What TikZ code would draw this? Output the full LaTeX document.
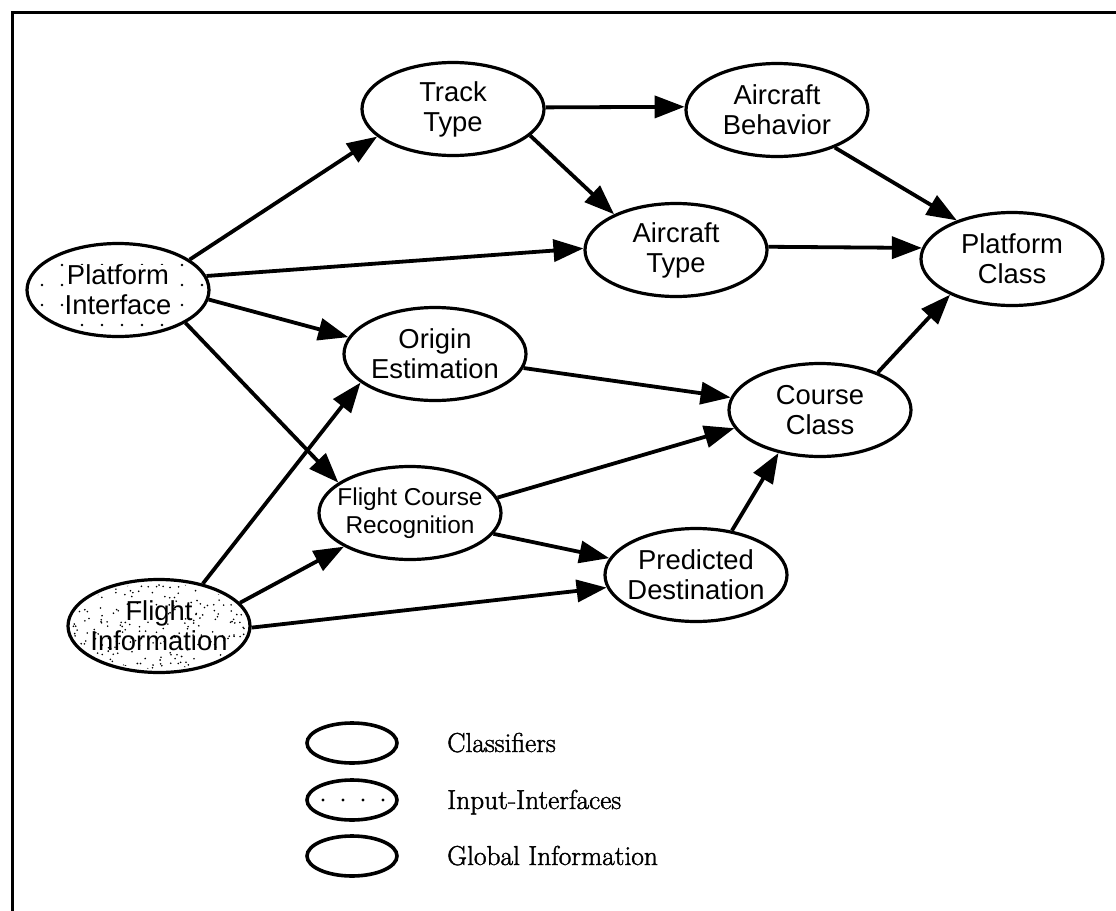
\documentclass[tikz,border=0pt]{standalone}
\usepackage{fontspec}
\newfontfamily\hv{Liberation Sans}
\newfontfamily\legfont{Latin Modern Roman}[FakeBold=1.5]
\usetikzlibrary{shapes.geometric,arrows.meta}
\begin{document}
\begin{tikzpicture}[x=1bp,y=-1bp,
  ell/.style={ellipse,draw,line width=3.2bp,minimum width=182bp,minimum height=93bp,inner sep=0pt},
  lbl/.style={font=\hv\fontsize{27.5}{30}\selectfont,align=center,inner sep=0pt},
  lblsm/.style={font=\hv\fontsize{24.5}{28}\selectfont,align=center,inner sep=0pt},
  arr/.style={line width=3.8bp,-{Triangle[length=30bp,width=22bp]}},
  legell/.style={ellipse,draw,line width=3.6bp,minimum width=90bp,minimum height=40bp,inner sep=0pt},
  legtxt/.style={font=\legfont\fontsize{27.5}{30}\selectfont,anchor=base west,inner sep=0pt}]
\useasboundingbox (0,0) rectangle (1116,911);
% frame
\draw[line width=3bp] (12,911) -- (12,12) -- (1116,12);

% dotted fill of Platform Interface
\begin{scope}
\clip (118,290) ellipse [x radius=86, y radius=43];
\foreach \x in {42,62,...,202} \foreach \y in {265,285,305,325} \fill (\x,\y) circle (1.4bp);
\end{scope}
% speckled fill of Flight Information
\begin{scope}
\clip (159,626) ellipse [x radius=88, y radius=43];
\pgfmathsetseed{12}
\foreach \i in {1,...,230}{
  \pgfmathsetmacro\px{159+88*rand}
  \pgfmathsetmacro\py{626+43*rand}
  \fill (\px,\py) circle (0.9bp);
}
\end{scope}

% nodes
\node[ell] (TT) at (453,109) {};
\node[lbl] (TTt) at (TT) {Track\\Type};
\node[ell] (AB) at (777,110) {};
\node[lbl] (ABt) at (AB) {Aircraft\\Behavior};
\node[ell] (AT) at (676,250) {};
\node[lbl] (ATt) at (AT) {Aircraft\\Type};
\node[ell] (PC) at (1012,259) {};
\node[lbl] (PCt) at (PC) {Platform\\Class};
\node[ell] (PI) at (118,290) {};
\node[lbl,fill=white] (PIt) at (PI) {Platform\\Interface};
\node[ell] (OE) at (435,354) {};
\node[lbl] (OEt) at (OE) {Origin\\Estimation};
\node[ell] (CC) at (820,410) {};
\node[lbl] (CCt) at (CC) {Course\\Class};
\node[ell] (FCR) at (410,513) {};
\node[lblsm] (FCRt) at (FCR) {Flight Course\\Recognition};
\node[ell] (PD) at (696,575) {};
\node[lbl] (PDt) at (PD) {Predicted\\Destination};
\node[ell] (FI) at (159,626) {};
\node[lbl] (FIt) at (FI) {Flight\\Information};

% connectors
\draw[arr] (PI.23) -- (TT.200);
\draw[arr] (PI.9) -- (AT.179);
\draw[arr] (PI.-6) -- (OE.169);
\draw[arr] (PI.-26) -- (FCR.157);
\draw[arr] (TT.1) -- (AB.178);
\draw[arr] (TT.-19) -- (AT.150);
\draw[arr] (AB.-33) -- (PC.145);
\draw[arr] (AT.2) -- (PC.173);
\draw[arr] (OE.-9) -- (CC.172);
\draw[arr] (FCR.10) -- (CC.192);
\draw[arr] (FCR.-14) -- (PD.169);
\draw[arr] (FI.44) -- (OE.201);
\draw[arr] (FI.16) -- (FCR.207);
\draw[arr] (FI.-1) -- (PD.188);
\draw[arr] (PD.51) -- (CC.226);
\draw[arr] (CC.33) -- (PC.210);

% legend
\node[legell] (L1) at (352,743) {};
\node[legell] (L2) at (352,800) {};
\node[legell] (L3) at (352,856) {};
\foreach \x in {323,343,363,383} \fill (\x,800) circle (1.6bp);
\node[legtxt] (L1t) at (447,752) {Classifiers};
\node[legtxt] (L2t) at (447,809) {Input-Interfaces};
\node[legtxt] (L3t) at (447,865) {Global Information};
\end{tikzpicture}
\end{document}
